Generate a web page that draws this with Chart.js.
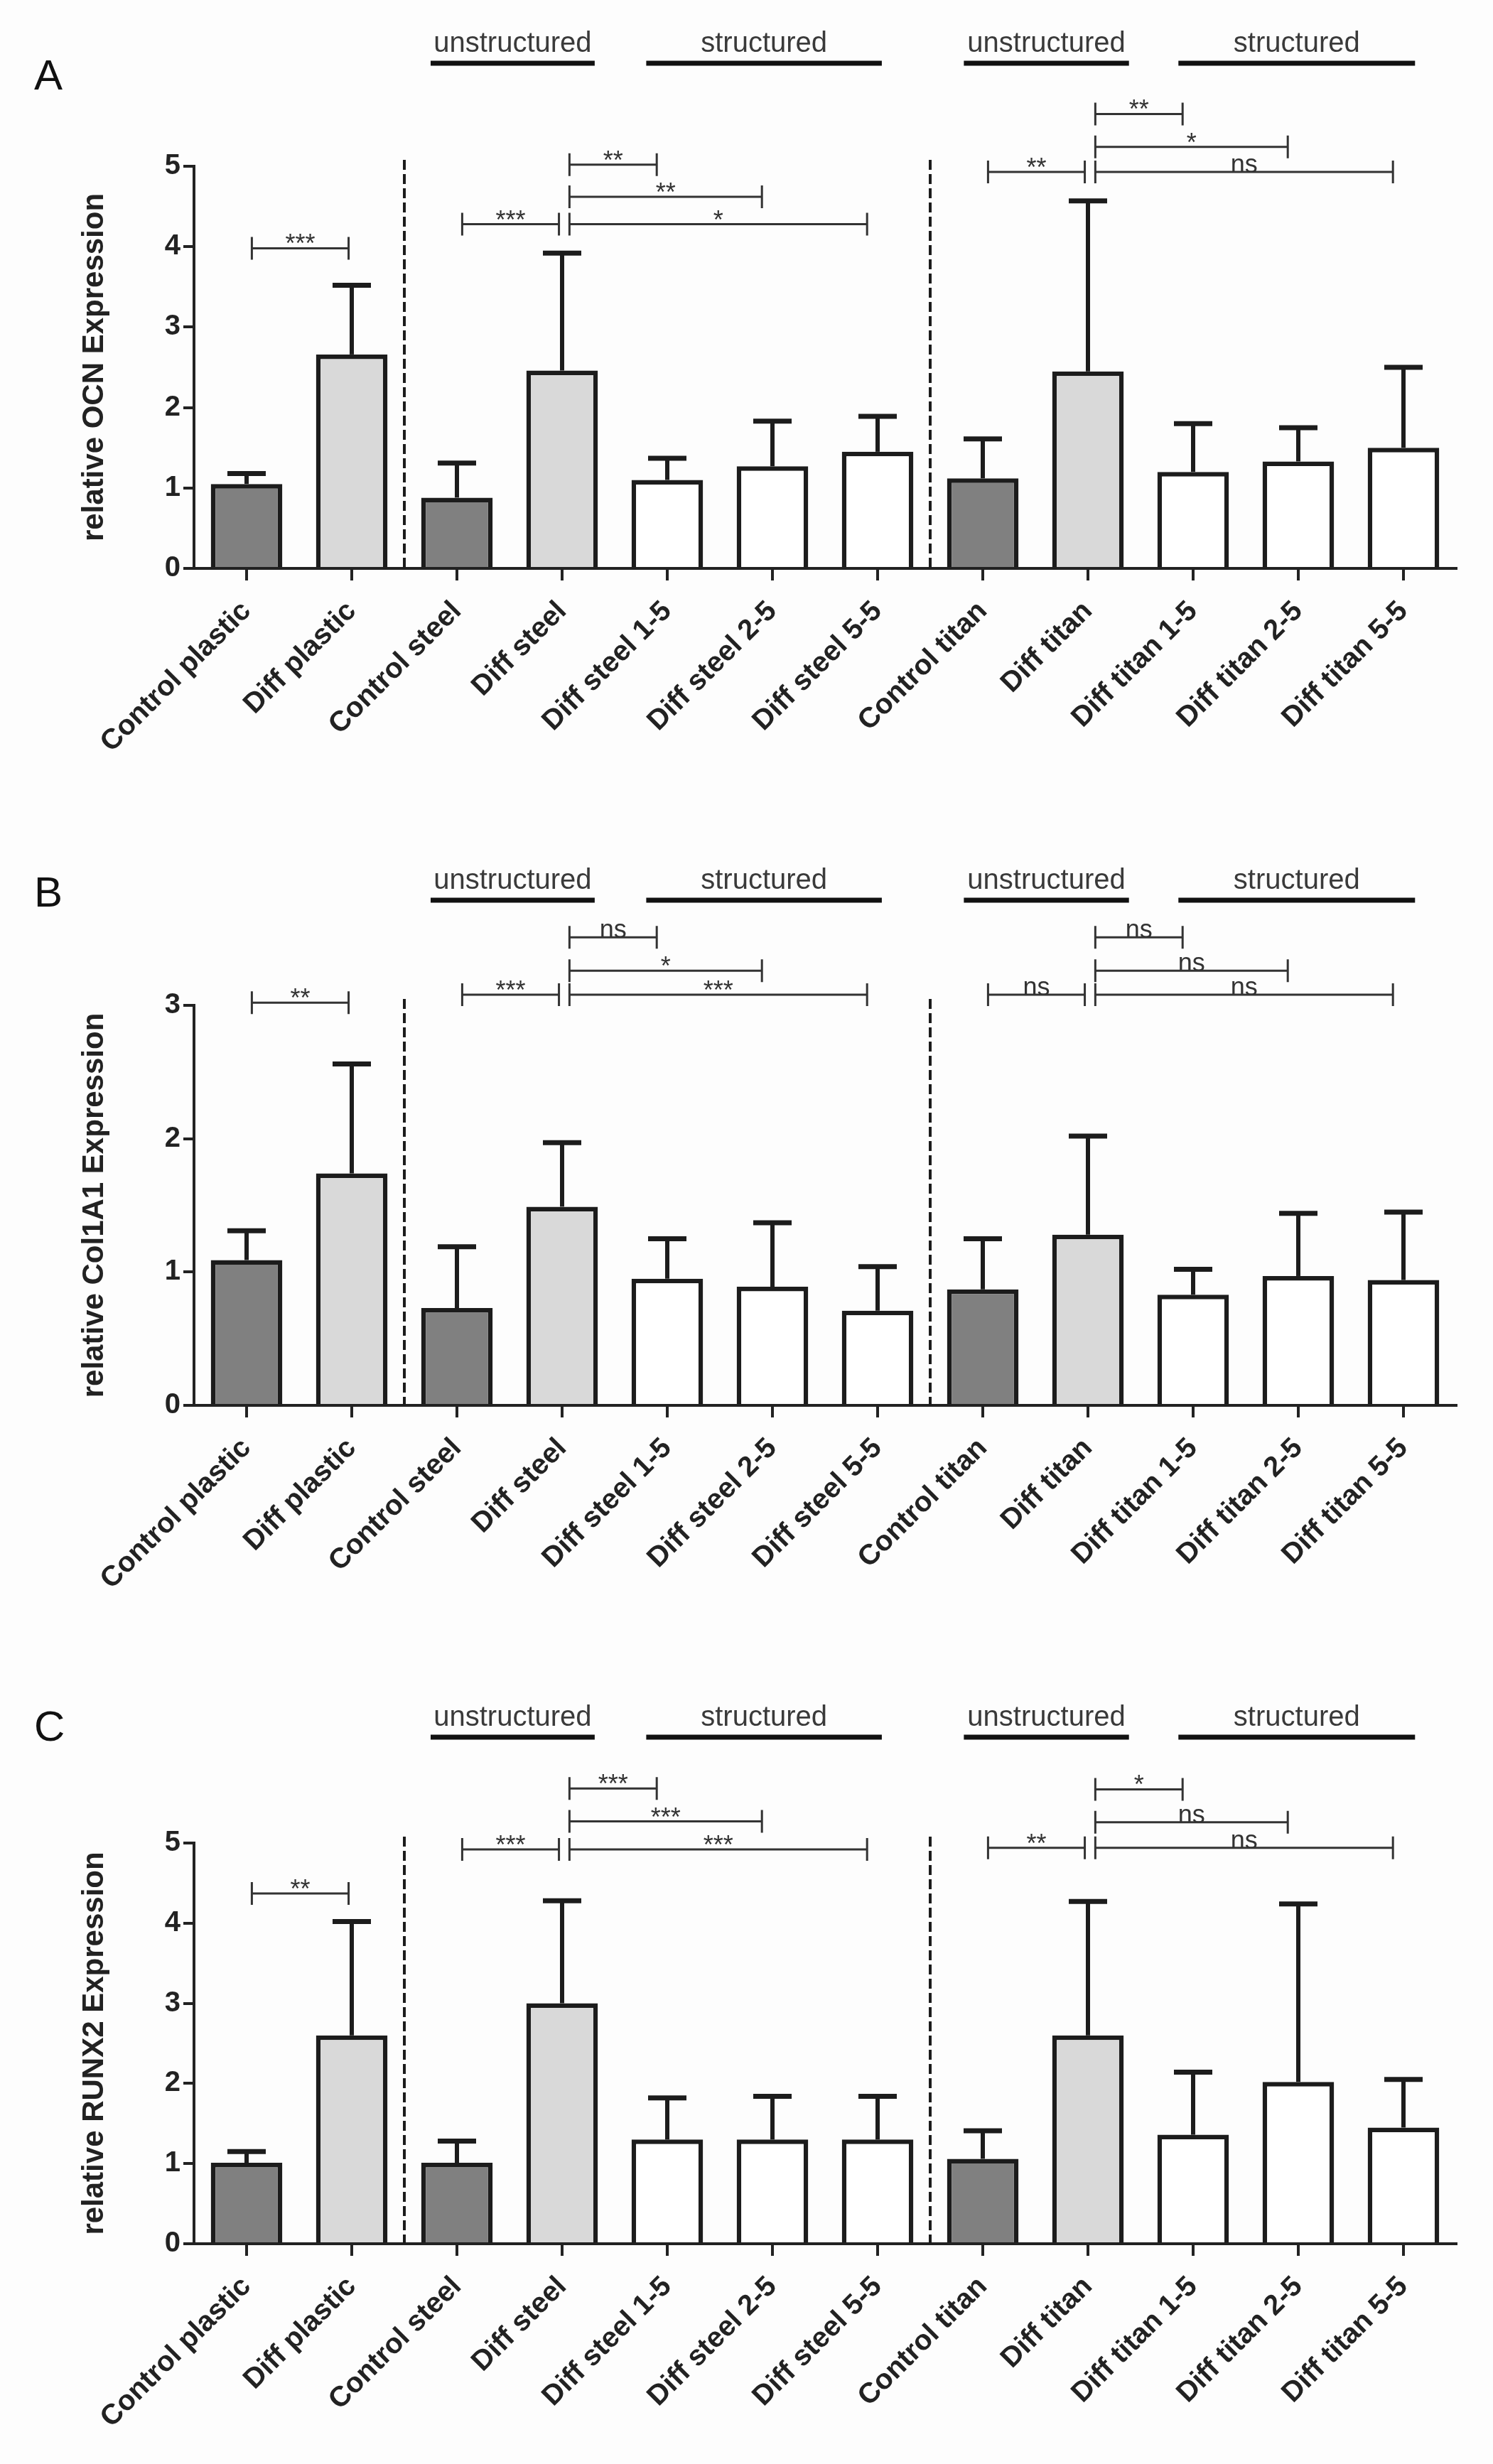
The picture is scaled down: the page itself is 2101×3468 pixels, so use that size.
<!DOCTYPE html>
<html>
<head>
  <meta charset="utf-8">
  <title>relative OCN / Col1A1 / RUNX2 Expression</title>
  <script src="https://cdn.jsdelivr.net/npm/chart.js"></script>
  <style>
    body { margin: 0; background: #fdfdfd; width: 2101px; height: 3468px; position: relative; overflow: hidden; }
    .panel { position: absolute; left: 0; }
  </style>
</head>
<body>
  <div class="panel" style="top:0px"><canvas id="chartA" width="2101" height="1150"></canvas></div>
  <div class="panel" style="top:1150px"><canvas id="chartB" width="2101" height="1180"></canvas></div>
  <div class="panel" style="top:2330px"><canvas id="chartC" width="2101" height="1138"></canvas></div>
</body>
</html>
<script>
//------------------------------------------------------------------------------
// data
//------------------------------------------------------------------------------
var categories = ['Control plastic', 'Diff plastic', 'Control steel', 'Diff steel',
  'Diff steel 1-5', 'Diff steel 2-5', 'Diff steel 5-5', 'Control titan', 'Diff titan',
  'Diff titan 1-5', 'Diff titan 2-5', 'Diff titan 5-5'];

var ocnMean = [1.05, 2.66, 0.88, 2.46, 1.10, 1.27, 1.45, 1.12, 2.45, 1.20, 1.33, 1.50];
var ocnSd   = [0.13, 0.86, 0.43, 1.46, 0.27, 0.56, 0.44, 0.49, 2.12, 0.60, 0.42, 1.00];

var colMean = [1.09, 1.74, 0.73, 1.49, 0.95, 0.89, 0.71, 0.87, 1.28, 0.83, 0.97, 0.94];
var colSd   = [0.22, 0.82, 0.46, 0.48, 0.30, 0.48, 0.33, 0.38, 0.74, 0.19, 0.47, 0.51];

var runxMean = [1.01, 2.60, 1.01, 3.00, 1.30, 1.30, 1.30, 1.06, 2.60, 1.36, 2.02, 1.45];
var runxSd   = [0.14, 1.42, 0.27, 1.28, 0.52, 0.54, 0.54, 0.35, 1.67, 0.78, 2.22, 0.60];

// significance brackets: [from, to, height (axis units), label]
var ocnSig = [[0, 1, 3.98, '***'], [2, 3, 4.28, '***'], [3, 4, 5.02, '**'], [3, 5, 4.62, '**'],
  [3, 6, 4.28, '*'], [7, 8, 4.93, '**'], [8, 9, 5.65, '**'], [8, 10, 5.24, '*'], [8, 11, 4.93, 'ns']];
var colSig = [[0, 1, 3.02, '**'], [2, 3, 3.08, '***'], [3, 4, 3.51, 'ns'], [3, 5, 3.26, '*'],
  [3, 6, 3.08, '***'], [7, 8, 3.08, 'ns'], [8, 9, 3.51, 'ns'], [8, 10, 3.26, 'ns'], [8, 11, 3.08, 'ns']];
var runxSig = [[0, 1, 4.37, '**'], [2, 3, 4.92, '***'], [3, 4, 5.68, '***'], [3, 5, 5.27, '***'],
  [3, 6, 4.92, '***'], [7, 8, 4.94, '**'], [8, 9, 5.67, '*'], [8, 10, 5.26, 'ns'], [8, 11, 4.94, 'ns']];

var groupLabels = ['unstructured', 'structured', 'unstructured', 'structured'];

//------------------------------------------------------------------------------
// styles
//------------------------------------------------------------------------------
var FONT = "'Liberation Sans', Arial, sans-serif";
var INK = '#1c1c1c';
var barColors = ['#808080', '#d9d9d9', '#808080', '#d9d9d9', '#ffffff', '#ffffff', '#ffffff',
  '#808080', '#d9d9d9', '#ffffff', '#ffffff', '#ffffff'];
var groupSpans = [[1.75, 3.31], [3.80, 6.04], [6.82, 8.39], [8.86, 11.11]];
var dividers = [1.5, 6.5];
var diffIdx = [1, 3, 8];

//------------------------------------------------------------------------------
// extras: error bars, brackets, dashed dividers, group headers, panel letter
//------------------------------------------------------------------------------
var extrasPlugin = {
  id: 'extras',
  afterDatasetsDraw: function(chart, args, opts) {
    var ctx = chart.ctx;
    var xs = chart.scales.x, ys = chart.scales.y;
    var area = chart.chartArea;
    var step = xs.getPixelForValue(1) - xs.getPixelForValue(0);
    ctx.save();

    // error bars (upper only)
    ctx.strokeStyle = INK;
    for (var i = 0; i < opts.mean.length; i++) {
      var x = xs.getPixelForValue(i);
      var y0 = ys.getPixelForValue(opts.mean[i]);
      var y1 = ys.getPixelForValue(opts.mean[i] + opts.sd[i]);
      ctx.lineWidth = 6;
      ctx.beginPath(); ctx.moveTo(x, y0); ctx.lineTo(x, y1); ctx.stroke();
      ctx.lineWidth = 7;
      ctx.beginPath(); ctx.moveTo(x - 27, y1); ctx.lineTo(x + 27, y1); ctx.stroke();
    }

    // dashed dividers
    ctx.lineWidth = 4;
    ctx.setLineDash([14, 6]);
    dividers.forEach(function(d) {
      var x = xs.getPixelForValue(0) + d * step;
      ctx.beginPath(); ctx.moveTo(x, area.top - 9); ctx.lineTo(x, area.bottom); ctx.stroke();
    });
    ctx.setLineDash([]);

    // significance brackets
    ctx.strokeStyle = '#333';
    ctx.fillStyle = '#333';
    ctx.font = '36px ' + FONT;
    ctx.textAlign = 'center';
    ctx.textBaseline = 'alphabetic';
    opts.sig.forEach(function(s) {
      var x1 = xs.getPixelForValue(s[0]) + (diffIdx.indexOf(s[0]) >= 0 ? 0.07 : 0.05) * step;
      var x2 = xs.getPixelForValue(s[1]) + (diffIdx.indexOf(s[1]) >= 0 ? -0.03 : -0.1) * step;
      var y = ys.getPixelForValue(s[2]);
      ctx.lineWidth = 3;
      ctx.beginPath();
      ctx.moveTo(x1, y); ctx.lineTo(x2, y);
      ctx.moveTo(x1, y - 16); ctx.lineTo(x1, y + 16);
      ctx.moveTo(x2, y - 16); ctx.lineTo(x2, y + 16);
      ctx.stroke();
      ctx.fillText(s[3], (x1 + x2) / 2, y + (s[3] === 'ns' ? 1 : 6));
    });

    // group headers
    var lineY = opts.headerY;
    ctx.font = '40px ' + FONT;
    ctx.fillStyle = '#3a3a3a';
    ctx.strokeStyle = '#111';
    ctx.lineWidth = 7;
    groupSpans.forEach(function(g, k) {
      var a = xs.getPixelForValue(0) + g[0] * step;
      var b = xs.getPixelForValue(0) + g[1] * step;
      ctx.beginPath(); ctx.moveTo(a, lineY); ctx.lineTo(b, lineY); ctx.stroke();
      ctx.fillText(groupLabels[k], (a + b) / 2, lineY - 16);
    });

    // panel letter
    ctx.font = '60px ' + FONT;
    ctx.fillStyle = '#111';
    ctx.textAlign = 'left';
    ctx.fillText(opts.letter, 48, opts.letterY);
    ctx.restore();
  }
};

//------------------------------------------------------------------------------
// one panel
//------------------------------------------------------------------------------
function makePanel(id, p) {
  var canvas = document.getElementById(id);
  var ctx = canvas.getContext('2d');
  var xAxisH = 300;
  return new Chart(ctx, {
    type: 'bar',
    data: {
      labels: categories,
      datasets: [{
        data: p.mean,
        backgroundColor: barColors,
        borderColor: INK,
        borderWidth: 6.5,
        categoryPercentage: 1,
        barPercentage: 0.68
      }]
    },
    options: {
      responsive: false,
      animation: false,
      devicePixelRatio: 1,
      layout: { padding: { top: p.chartTop, bottom: canvas.height - p.chartBottom - xAxisH, left: 0, right: 52 } },
      plugins: {
        legend: { display: false },
        tooltip: { enabled: false },
        extras: { mean: p.mean, sd: p.sd, sig: p.sig, letter: p.letter, letterY: p.letterY, headerY: p.headerY }
      },
      scales: {
        x: {
          afterFit: function(s) { s.height = xAxisH; },
          grid: { offset: false, drawOnChartArea: false, tickLength: 17, lineWidth: 4, color: '#222' },
          border: { width: 4, color: '#222' },
          ticks: { minRotation: 45, maxRotation: 45, autoSkip: false, padding: 20, color: '#222',
                   font: { family: FONT, size: 40, weight: 'bold' } }
        },
        y: {
          min: 0, max: p.yMax,
          afterFit: function(s) { s.width = 273; },
          grid: { drawOnChartArea: false, tickLength: 15, lineWidth: 4, color: '#222' },
          border: { width: 4, color: '#222' },
          ticks: { stepSize: 1, padding: 4, color: '#222', font: { family: FONT, size: 40, weight: 'bold' } },
          title: { display: true, text: p.yTitle, color: '#222', padding: { top: 108, bottom: 0 },
                   font: { family: FONT, size: 42, weight: 'bold' } }
        }
      }
    },
    plugins: [extrasPlugin]
  });
}

var chartA = makePanel('chartA', { letter: 'A', yTitle: 'relative OCN Expression', yMax: 5,
  mean: ocnMean, sd: ocnSd, sig: ocnSig, chartTop: 234, chartBottom: 800, headerY: 89, letterY: 126 });
var chartB = makePanel('chartB', { letter: 'B', yTitle: 'relative Col1A1 Expression', yMax: 3,
  mean: colMean, sd: colSd, sig: colSig, chartTop: 265, chartBottom: 828, headerY: 117, letterY: 126 });
var chartC = makePanel('chartC', { letter: 'C', yTitle: 'relative RUNX2 Expression', yMax: 5,
  mean: runxMean, sd: runxSd, sig: runxSig, chartTop: 264, chartBottom: 828, headerY: 115, letterY: 120 });
</script>
